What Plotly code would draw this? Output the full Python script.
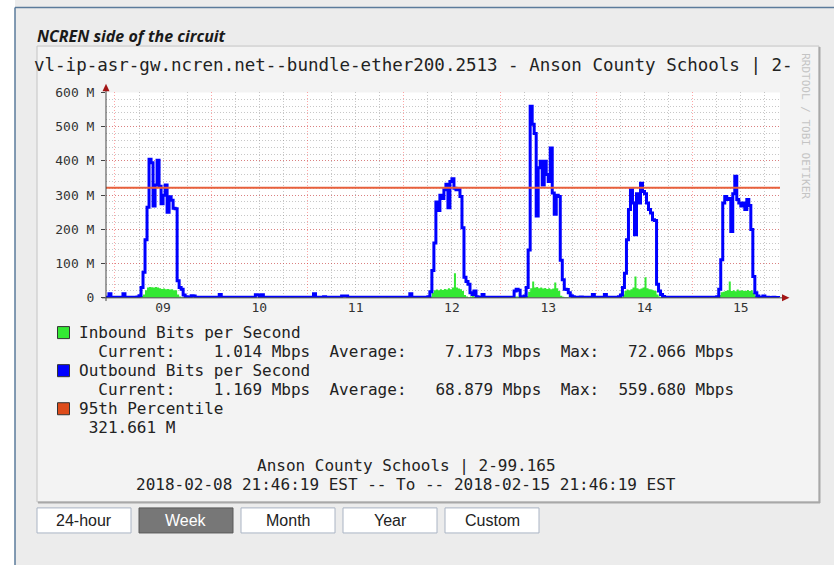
import pandas as pd
import plotly.graph_objects as go

W, H = 834, 565
# the photographed figure lands 8 px down and 549 px tall; map screen pixels to paper with that
Y_OFF, Y_SPAN = 8, 549

# ---- data (Mbps, 30-minute samples) ----
feb08_out = [1.5, 1.4, 12, 2.0, 1.5]
feb09_out = [1.5, 1.4, 1.6, 1.5, 12, 1.8, 1.5, 1.4, 1.6, 1.5, 1.8, 2.5,
             6, 30, 75, 170, 265, 405, 395, 268, 330, 402, 326, 275,
             300, 330, 250, 295, 285, 262, 260, 50, 30, 25, 8, 3,
             2.5, 2.0, 6, 5, 2.0, 1.8, 1.6, 1.5, 1.5, 1.4, 1.5, 1.4]
feb10_out = [1.5, 1.4, 1.6, 1.5, 10, 1.8, 1.5, 1.4, 1.6, 1.5, 1.4, 1.5,
             1.6, 1.5, 1.4, 1.6, 1.5, 1.7, 1.8, 1.6, 1.5, 1.6, 9, 8,
             2.0, 9, 1.8, 1.6, 1.5, 1.4, 1.5, 1.6, 1.5, 1.4, 1.5, 1.6,
             1.5, 1.4, 1.5, 1.6, 1.5, 1.4, 1.3, 1.5, 1.4, 1.5, 1.3, 1.4]
feb11_out = [1.5, 1.4, 1.6, 12, 1.8, 1.5, 1.4, 1.6, 3, 1.5, 1.4, 1.5,
             1.6, 1.5, 1.4, 1.6, 1.5, 5, 5, 5, 1.5, 1.6, 1.5, 1.4,
             1.5, 1.6, 1.5, 1.4, 1.5, 1.6, 1.5, 1.4, 1.5, 1.6, 1.5, 1.4,
             1.5, 1.6, 1.5, 1.4, 1.5, 1.6, 1.5, 1.4, 1.5, 1.6, 1.5, 1.4]
feb12_out = [1.5, 1.4, 1.6, 12, 1.8, 1.5, 1.4, 1.6, 1.5, 1.7, 1.8, 2.0,
             3, 18, 80, 160, 280, 255, 300, 290, 316, 332, 263, 340,
             348, 320, 316, 318, 296, 205, 60, 48, 40, 15, 10, 20,
             3, 2.0, 1.8, 10, 2.0, 1.6, 1.5, 1.4, 1.5, 1.6, 1.5, 1.4]
feb13_out = [1.5, 1.6, 1.4, 1.5, 1.6, 1.5, 1.4, 20, 25, 22, 3, 2.0,
             5, 30, 140, 559.68, 507, 480, 239, 380, 399, 330, 399, 360,
             340, 438, 306, 244, 300, 296, 110, 53, 25, 24, 15, 6,
             3, 2.0, 1.8, 1.6, 2.5, 1.5, 1.6, 1.5, 1.4, 1.5, 10, 1.5]
feb14_out = [1.5, 1.4, 1.6, 1.5, 10, 1.8, 1.5, 1.4, 1.6, 1.5, 2.0, 3.0,
             8, 30, 72, 170, 258, 316, 277, 184, 304, 277, 335, 311,
             304, 277, 258, 248, 228, 226, 40, 20, 10, 4, 2.0, 1.8,
             1.6, 1.5, 1.4, 1.5, 1.6, 1.5, 1.4, 1.3, 1.5, 1.4, 1.5, 1.3]
feb15_out = [1.5, 1.4, 1.6, 1.5, 1.4, 1.6, 1.5, 1.4, 1.6, 1.5, 1.8, 2.0,
             3, 25, 111, 277, 296, 287, 290, 194, 304, 355, 287, 277,
             268, 277, 258, 287, 270, 200, 62, 15, 5, 2.0, 1.6, 5,
             1.4, 1.5, 1.3, 1.2, 1.4, 1.3, 1.2, 1.169]

feb08_in = [1.0, 1.0, 1.2, 1.0, 0.9]
feb09_in = [1.0, 0.9, 1.1, 1.0, 1.2, 1.0, 0.9, 1.0, 1.1, 1.0, 1.2, 1.5,
            2, 5, 10, 22, 30, 32, 31, 30, 32, 30, 28, 26,
            27, 25, 26, 24, 25, 22, 22, 10, 4, 2, 1.5, 1.2,
            1.1, 1.0, 1.2, 1.0, 0.9, 1.0, 1.1, 1.0, 0.9, 1.0, 1.1, 1.0]
feb10_in = [1.0, 0.9, 1.1, 1.0, 1.2, 1.0, 0.9, 1.0, 1.1, 1.0, 0.9, 1.0,
            1.1, 1.0, 0.9, 1.0, 1.1, 1.0, 1.2, 1.0, 0.9, 1.0, 1.3, 1.2,
            1.1, 1.2, 1.0, 0.9, 1.0, 1.1, 1.0, 0.9, 1.0, 1.1, 1.0, 0.9,
            1.0, 1.1, 1.0, 0.9, 3.0, 1.0, 1.1, 1.0, 0.9, 1.0, 1.1, 1.0]
feb11_in = [1.0, 0.9, 1.1, 1.0, 1.0, 0.9, 1.0, 1.1, 1.0, 0.9, 1.0, 1.1,
            1.0, 0.9, 1.0, 1.1, 1.0, 0.9, 1.0, 1.1, 1.0, 0.9, 1.0, 1.1,
            1.0, 0.9, 1.0, 1.1, 1.0, 0.9, 1.0, 1.1, 1.0, 0.9, 1.0, 1.1,
            1.0, 0.9, 1.0, 4.0, 1.0, 0.9, 1.0, 1.1, 1.0, 0.9, 1.0, 1.1]
feb12_in = [1.0, 1.1, 0.9, 1.2, 1.0, 1.0, 0.9, 1.1, 1.0, 1.0, 1.2, 1.3,
            1.5, 4, 15, 22, 24, 22, 25, 23, 26, 24, 28, 25,
            30, 72.066, 30, 27, 25, 20, 8, 4, 2, 4, 5, 3,
            5, 2, 1.2, 1.0, 1.1, 1.0, 0.9, 1.0, 1.1, 1.0, 0.9, 1.0]
feb13_in = [1.0, 1.1, 0.9, 1.0, 1.1, 1.0, 1.0, 3, 4, 3, 1.5, 1.2,
            2, 5, 18, 28, 48, 30, 32, 28, 30, 27, 29, 26,
            28, 25, 27, 45, 28, 20, 6, 3, 2, 1.5, 1.2, 1.0,
            1.1, 1.0, 0.9, 1.0, 1.1, 1.0, 0.9, 1.0, 1.1, 1.0, 1.2, 1.0]
feb14_in = [1.0, 0.9, 1.1, 1.0, 1.2, 1.0, 0.9, 1.0, 1.1, 1.0, 1.2, 1.5,
            2, 10, 20, 24, 22, 25, 30, 62, 28, 25, 27, 30,
            60, 28, 25, 24, 22, 20, 10, 4, 2, 1.5, 1.2, 1.0,
            1.1, 1.0, 0.9, 1.0, 1.1, 1.0, 0.9, 1.0, 1.1, 1.0, 1.2, 1.0]
feb15_in = [1.0, 0.9, 1.1, 1.0, 1.0, 1.1, 0.9, 1.0, 1.1, 1.0, 1.2, 1.4,
            2, 8, 16, 18, 20, 22, 48, 20, 22, 19, 24, 20,
            22, 21, 20, 23, 20, 22, 15, 5, 2, 1.5, 1.2, 1.0,
            1.1, 1.0, 0.9, 1.0, 1.1, 1.0, 0.9, 1.014]

p95 = 321.661
in_stats = ("1.014", "7.173", "72.066")
out_stats = ("1.169", "68.879", "559.680")

y_ticks = [0, 100, 200, 300, 400, 500, 600]
y_ticktext = ["0", "100 M", "200 M", "300 M", "400 M", "500 M", "600 M"]

out_bps = feb08_out + feb09_out + feb10_out + feb11_out + feb12_out + feb13_out + feb14_out + feb15_out
in_bps = feb08_in + feb09_in + feb10_in + feb11_in + feb12_in + feb13_in + feb14_in + feb15_in
times = pd.date_range("2018-02-08 21:30", periods=len(out_bps), freq="30min")
t_start = pd.Timestamp("2018-02-08 21:46:19")
t_end = pd.Timestamp("2018-02-15 21:46:19")

GREEN = "#33e833"
BLUE = "#0000ff"
ORANGE = "#e8603c"
MONO = "DejaVu Sans Mono"


def px(x):
    return x / W


def py(y):
    return 1 - (y - Y_OFF) / Y_SPAN


def nb(s):
    return s.replace(" ", "\u00a0")


fig = go.Figure()
fig.add_trace(go.Scatter(x=times, y=in_bps, mode="lines", line=dict(width=0, shape="hv"),
                         fill="tozeroy", fillcolor=GREEN))
fig.add_trace(go.Scatter(x=times, y=out_bps, mode="lines", line=dict(color=BLUE, width=3, shape="hv")))
fig.add_trace(go.Scatter(x=[t_start, t_end], y=[p95, p95], mode="lines", line=dict(color=ORANGE, width=2)))

shapes = []
# page
shapes.append(dict(type="rect", xref="paper", yref="paper", x0=0, x1=px(15), y0=-0.1, y1=1.1,
                   fillcolor="white", line_width=0, layer="below"))
shapes.append(dict(type="line", xref="paper", yref="paper", x0=px(15), x1=px(15), y0=-0.1, y1=py(8.5),
                   line=dict(color="#5b7b9b", width=1.5), layer="below"))
shapes.append(dict(type="line", xref="paper", yref="paper", x0=px(15), x1=1, y0=py(8.5), y1=py(8.5),
                   line=dict(color="#5b7b9b", width=1.5), layer="below"))
# graph panel
shapes.append(dict(type="rect", xref="paper", yref="paper", x0=px(37), x1=px(819), y0=py(502), y1=py(47),
                   fillcolor="#f3f3f3", line=dict(color="#c4c4c4", width=1), layer="below"))
shapes.append(dict(type="line", xref="paper", yref="paper", x0=px(819.5), x1=px(819.5), y0=py(503), y1=py(48),
                   line=dict(color="#a8a8a8", width=2), layer="below"))
shapes.append(dict(type="line", xref="paper", yref="paper", x0=px(38), x1=px(820), y0=py(502.5), y1=py(502.5),
                   line=dict(color="#a8a8a8", width=2), layer="below"))
# canvas
shapes.append(dict(type="rect", xref="x domain", yref="y domain", x0=0, x1=1, y0=0, y1=1,
                   fillcolor="white", line_width=0, layer="below"))
# axes with arrows
shapes.append(dict(type="line", xref="paper", yref="paper", x0=px(106), x1=px(106), y0=py(301.5), y1=py(89),
                   line=dict(color="#444444", width=1)))
shapes.append(dict(type="line", xref="paper", yref="paper", x0=px(102), x1=px(784), y0=py(298.3), y1=py(298.3),
                   line=dict(color="#444444", width=1)))
shapes.append(dict(type="path", xref="paper", yref="paper",
                   path=f"M {px(102.5)},{py(92)} L {px(109.5)},{py(92)} L {px(106)},{py(84.5)} Z",
                   fillcolor="#a31515", line_width=0))
shapes.append(dict(type="path", xref="paper", yref="paper",
                   path=f"M {px(782)},{py(294.8)} L {px(782)},{py(301.8)} L {px(789.5)},{py(298.3)} Z",
                   fillcolor="#a31515", line_width=0))

annotations = []
annotations.append(dict(text="<b><i>NCREN side of the circuit</i></b>", x=px(35), y=py(37),
                        font=dict(family="Open Sans", size=16, color="#1a1a1a")))
annotations.append(dict(text="vl-ip-asr-gw.ncren.net--bundle-ether200.2513 - Anson County Schools | 2-",
                        x=px(32), y=py(66), font=dict(family=MONO, size=17.5, color="#222222")))
annotations.append(dict(text="RRDTOOL / TOBI OETIKER", x=px(806), y=py(127), textangle=90, xanchor="center",
                        font=dict(family=MONO, size=11, color="#c4c4c4")))

legend_rows = [
    ("Inbound Bits per Second", 333),
    ("  Current:{:>9} Mbps  Average:{:>9} Mbps  Max:{:>9} Mbps".format(*in_stats), 352),
    ("Outbound Bits per Second", 371),
    ("  Current:{:>9} Mbps  Average:{:>9} Mbps  Max:{:>9} Mbps".format(*out_stats), 390),
    ("95th Percentile", 409),
    (" {:.3f} M".format(p95), 428),
]
for text, yc in legend_rows:
    annotations.append(dict(text=nb(text), x=px(76.5), y=py(yc),
                            font=dict(family=MONO, size=16, color="#222222")))

for color, yc in [(GREEN, 333), (BLUE, 371), ("#dd4b1a", 409)]:
    shapes.append(dict(type="rect", xref="paper", yref="paper", x0=px(57.5), x1=px(69.5),
                       y0=py(yc + 6), y1=py(yc - 6), fillcolor=color, line=dict(color="#333333", width=1)))

annotations.append(dict(text=nb("Anson County Schools | 2-99.165"), x=px(406), y=py(466), xanchor="center",
                        font=dict(family=MONO, size=16, color="#222222")))
annotations.append(dict(text=nb("2018-02-08 21:46:19 EST -- To -- 2018-02-15 21:46:19 EST"), x=px(406), y=py(485),
                        xanchor="center", font=dict(family=MONO, size=16, color="#222222")))

# period buttons
buttons = ["24-hour", "Week", "Month", "Year", "Custom"]
button_x = [37, 139, 241, 343, 445]
for label, bx in zip(buttons, button_x):
    active = label == "Week"
    shapes.append(dict(type="rect", xref="paper", yref="paper", x0=px(bx), x1=px(bx + 94), y0=py(533), y1=py(508),
                       fillcolor="#777777" if active else "white",
                       line=dict(color="#5a5a5a" if active else "#aab4c4", width=1)))
    annotations.append(dict(text=label, x=px(bx + 47), y=py(520.5), xanchor="center",
                            font=dict(family="Liberation Sans", size=16, color="white" if active else "#222222")))

for a in annotations:
    a.setdefault("xanchor", "left")
    a.update(xref="paper", yref="paper", yanchor="middle", showarrow=False)

fig.update_layout(
    width=W, height=H, autosize=False,
    margin=dict(l=0, r=0, t=0, b=0),
    paper_bgcolor="#ececec",
    plot_bgcolor="rgba(0,0,0,0)",
    showlegend=False,
    hovermode=False,
    shapes=shapes,
    annotations=annotations,
    xaxis=dict(
        type="date", range=[t_start, t_end], domain=[px(106), px(780)],
        tick0="2018-02-09", dtick=86400000, ticklabelmode="period", tickformat="%d",
        showgrid=True, gridcolor="rgba(255,0,0,0.35)", griddash="1px,2px", gridwidth=1,
        minor=dict(dtick=6 * 3600000, tick0="2018-02-09", showgrid=True,
                   gridcolor="rgba(130,130,130,0.45)", griddash="1px,2px", gridwidth=1),
        showline=False, zeroline=False, ticks="",
        tickfont=dict(family=MONO, size=13, color="#333333"),
        fixedrange=True,
    ),
    yaxis=dict(
        range=[0, 600], domain=[py(298.3), py(93.3)],
        tickvals=y_ticks, ticktext=y_ticktext,
        showgrid=True, gridcolor="rgba(255,0,0,0.35)", griddash="1px,2px", gridwidth=1,
        minor=dict(dtick=20, showgrid=True, gridcolor="rgba(130,130,130,0.45)", griddash="1px,2px", gridwidth=1),
        showline=False, zeroline=False, ticks="outside", ticklen=4, tickcolor="#444444",
        tickfont=dict(family=MONO, size=13, color="#333333"),
        ticklabelstandoff=4,
        fixedrange=True,
    ),
)

# drop the default body margin so the figure starts at the left edge
pin = "document.body.style.margin = '0'; document.body.style.overflow = 'hidden';"
fig.write_html("out.html", config={"displayModeBar": False}, post_script=pin)
